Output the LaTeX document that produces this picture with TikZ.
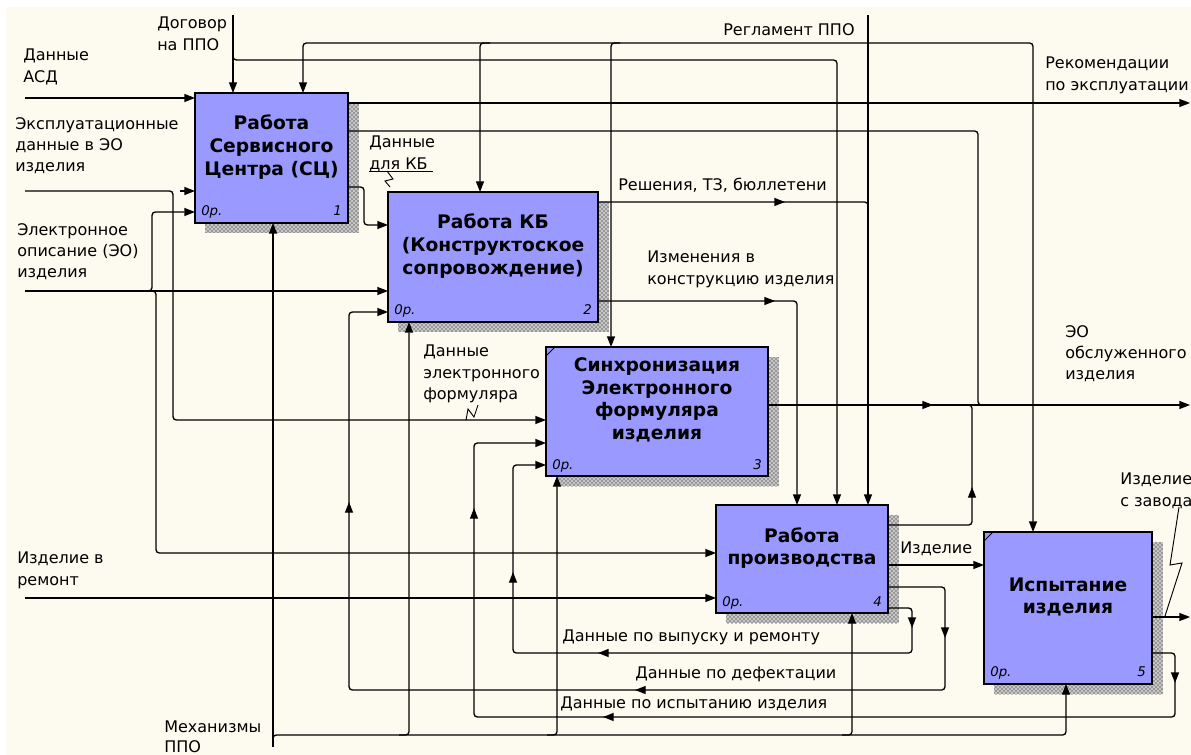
\documentclass[tikz,border=0pt]{standalone}
\usepackage{fontspec}
\setmainfont{DejaVu Sans}
\usetikzlibrary{arrows.meta,patterns}

\definecolor{boxblue}{RGB}{153,153,255}
\definecolor{paper}{RGB}{253,251,240}

\tikzset{
  func/.style={draw, fill=boxblue, line width=1pt, anchor=north west, inner sep=0pt, outer sep=0pt},
  shadowfill/.style={pattern=crosshatch dots, pattern color=black},
  fname/.style={align=center, inner sep=0pt, font=\bfseries\fontsize{14}{17}\selectfont},
  lbl/.style={anchor=north west, inner sep=0pt, align=left, font=\fontsize{12}{16}\selectfont},
  cost/.style={anchor=base west, inner sep=0pt, font=\itshape\fontsize{10}{11}\selectfont},
  num/.style={anchor=base east, inner sep=0pt, font=\itshape\fontsize{10}{11}\selectfont},
  wire/.style={line width=1pt, rounded corners=2.5pt},
  flow/.style={wire, -{Triangle[length=8pt,width=6pt]}},
}

\begin{document}
\begin{tikzpicture}[x=0.75pt,y=0.75pt,yscale=-1,xscale=1]
\useasboundingbox (0,0) rectangle (1191,755);
\fill[white] (0,0) rectangle (1191,755);
\fill[paper] (6,7) rectangle (1191,755);

%Shadows
\foreach \x/\y/\u/\v in {205/103/359/233, 398/202/609/332, 556/357/779/486, 726/515/899/623, 994/542/1163/694}{
  \fill[gray!45] (\x,\y) rectangle (\u,\v);
  \fill[shadowfill] (\x,\y) rectangle (\u,\v);
}

%Function boxes
\node[func, minimum width=114.75pt, minimum height=97.5pt] (b1) at (195,93) {};
\node[func, minimum width=157.5pt, minimum height=97.5pt] (b2) at (388,192) {};
\node[func, minimum width=166.5pt, minimum height=96.75pt] (b3) at (546,347) {};
\node[func, minimum width=129pt, minimum height=81pt] (b4) at (716,505) {};
\node[func, minimum width=126pt, minimum height=114pt] (b5) at (984,532) {};
\draw[line width=0.6pt] (546,356) -- (555,347);
\draw[line width=0.6pt] (984,541) -- (993,532);

% Box titles
\node[fname] (t1) at (271.5,147) {Работа\\Сервисного\\Центра (СЦ)};
\node[fname] (t2) at (493,246) {Работа КБ\\(Конструктоское\\сопровождение)};
\node[fname] (t3) at (657,400) {Синхронизация\\Электронного\\формуляра\\изделия};
\node[fname] (t4) at (802,548) {Работа\\производства};
\node[fname] (t5) at (1068,597) {Испытание\\изделия};

\node[cost] (c1) at (201,216) {0р.};
\node[num] (n1) at (342,216) {1};
\node[cost] (c2) at (394,315) {0р.};
\node[num] (n2) at (592,315) {2};
\node[cost] (c3) at (552,469) {0р.};
\node[num] (n3) at (762,469) {3};
\node[cost] (c4) at (722,606) {0р.};
\node[num] (n4) at (882,606) {4};
\node[cost] (c5) at (990,676) {0р.};
\node[num] (n5) at (1146,676) {5};

% Free ends
\coordinate (asd) at (25,98);
\coordinate (expl) at (25,191);
\coordinate (eo) at (25,291);
\coordinate (rem) at (25,598);
\coordinate (dog) at (233,15);
\coordinate (regl) at (868,15);
\coordinate (mech) at (273,747);
\coordinate (rek) at (1190,103);
\coordinate (eoout) at (1190,405);
\coordinate (zav) at (1190,617);

% Inputs
\draw[flow] (asd) -- (b1.west |- asd);
\draw[flow] (expl) -- (173,191) -- (173,420) -- (b3.west |- 0,420);
\draw[flow] (180,191) -- (b1.west |- expl);
\draw[flow] (eo) -- (b2.west |- eo);
\draw[flow] (146,291) -- (152,291) -- (152,212) -- (b1.west |- 0,212);
\draw[flow] (150,291) -- (156,291) -- (156,553) -- (b4.west |- 0,553);
\draw[flow] (rem) -- (b4.west |- rem);

% Controls
\draw[flow] (dog) -- (b1.north -| dog);
\draw[flow] (233,50) -- (233,60) -- (837,60) -- (b4.north -| 837,0);
\draw[flow] (regl) -- (b4.north -| regl);
\draw[flow] (868,43) -- (303,43) -- (b1.north -| 303,0);
\draw[flow] (490,43) -- (480,43) -- (b2.north -| 480,0);
\draw[flow] (620,43) -- (611,43) -- (b3.north -| 611,0);
\draw[flow] (868,43) -- (1033,43) -- (b5.north -| 1033,0);

% Mechanisms
\draw[flow] (mech) -- (b1.south -| mech);
\draw[flow] (273,741) -- (273,735) -- (1066,735) -- (b5.south -| 1066,0);
\draw[flow] (399,735) -- (409,735) -- (b2.south -| 409,0);
\draw[flow] (547,735) -- (557,735) -- (b3.south -| 557,0);
\draw[flow] (842,735) -- (852,735) -- (b4.south -| 852,0);

% Outputs
\draw[flow] (b1.east |- rek) -- (rek);
\draw[wire] (b1.east |- 0,131) -- (978,131) -- (978,405) -- (988,405);
\draw[flow] (b1.east |- 0,187) -- (364,187) -- (364,225) -- (b2.west |- 0,225);
\draw[wire] (b2.east |- 0,202) -- (868,202) -- (868,212);
\draw[flow] (b2.east |- 0,301) -- (797,301) -- (b4.north -| 797,0);
\draw[flow] (b3.east |- eoout) -- (eoout);
\draw[wire] (b4.east |- 0,525) -- (972,525) -- (972,405) -- (962,405);
\draw[flow] (b4.east |- 0,565) -- (b5.west |- 0,565);
\draw[flow] (b4.east |- 0,587) -- (945,587) -- (945,690) -- (349,690) -- (349,312) -- (b2.west |- 0,312);
\draw[flow] (b4.east |- 0,608) -- (912,608) -- (912,653) -- (513,653) -- (513,465) -- (b3.west |- 0,465);
\draw[flow] (b5.east |- zav) -- (zav);
\draw[flow] (b5.east |- 0,653) -- (1175,653) -- (1175,717) -- (474,717) -- (474,443) -- (b3.west |- 0,443);

% Arrow heads along the lines
\draw[flow] (930,405) -- (933,405);
\draw[flow] (782,202) -- (785,202);
\draw[flow] (772,301) -- (775,301);
\draw[flow] (972,490) -- (972,487);
\draw[flow] (945,635) -- (945,638);
\draw[flow] (638,690) -- (635,690);
\draw[flow] (349,505) -- (349,502);
\draw[flow] (912,625) -- (912,628);
\draw[flow] (601,653) -- (598,653);
\draw[flow] (513,575) -- (513,572);
\draw[flow] (1175,680) -- (1175,683);
\draw[flow] (606,717) -- (603,717);
\draw[flow] (474,511) -- (474,508);

% Squiggles
\draw[line width=0.7pt] (369,171) -- (433,171);
\draw[line width=0.7pt] (387,171) -- (393,179) -- (385,181) -- (390,187);
\draw[line width=0.7pt] (466,420) -- (468,409) -- (474,417) -- (478,405);
\draw[line width=0.7pt] (1179,507) -- (1170,565) -- (1182,563) -- (1165,616);

% Text Nodes
\node[lbl] (lDog) at (157,17) {Договор\\на ППО};
\node[lbl] (lAsd) at (23,49) {Данные\\АСД};
\node[lbl] (lExpl) at (15,117) {Эксплуатационные\\данные в ЭО\\изделия};
\node[lbl] (lEo) at (17,223) {Электронное\\описание (ЭО)\\изделия};
\node[lbl] (lRem) at (17,552) {Изделие в\\ремонт};
\node[lbl, font=\fontsize{12}{14.5}\selectfont] (lMech) at (164,721) {Механизмы\\ППО};
\node[lbl] (lRegl) at (723,23) {Регламент ППО};
\node[lbl] (lRek) at (1045,57) {Рекомендации\\по эксплуатации};
\node[lbl] (lKb) at (369,136) {Данные\\для КБ};
\node[lbl] (lRes) at (618,178) {Решения, ТЗ, бюллетени};
\node[lbl] (lIzm) at (647,251) {Изменения в\\конструкцию изделия};
\node[lbl] (lForm) at (423,345) {Данные\\электронного\\формуляра};
\node[lbl] (lEoo) at (1065,325) {ЭО\\обслуженного\\изделия};
\node[lbl] (lZav) at (1120,473) {Изделие\\с завода};
\node[lbl] (lIzd) at (900,542) {Изделие};
\node[lbl] (lVyp) at (562,630) {Данные по выпуску и ремонту};
\node[lbl] (lDef) at (635,667) {Данные по дефектации};
\node[lbl] (lIsp) at (560,697) {Данные по испытанию изделия};
\end{tikzpicture}
\end{document}
